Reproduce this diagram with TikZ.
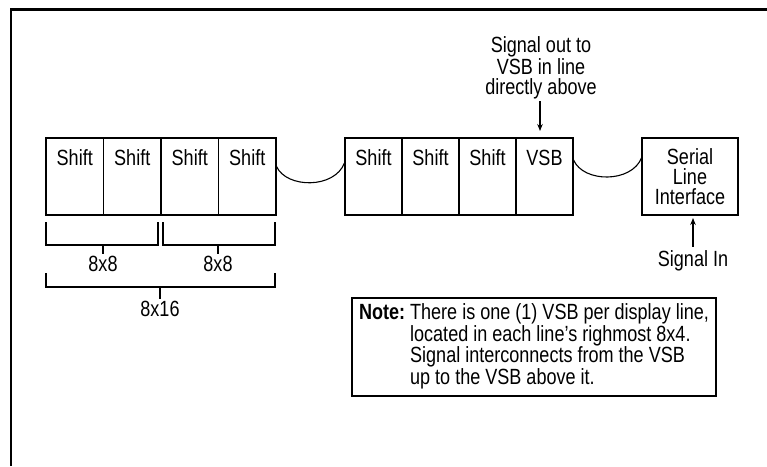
\documentclass[tikz,border=0pt]{standalone}
\usepackage{fontspec}
\setmainfont[FakeStretch=0.82]{Liberation Sans}
\usetikzlibrary{arrows.meta,calc}
\begin{document}
\begin{tikzpicture}[x=1pt,y=-1pt,
  every node/.style={font=\fontsize{22}{20}\selectfont},
  box/.style={draw,line width=1.1pt},
  cell/.style={box,minimum width=57.5pt,minimum height=77pt,inner sep=0pt,
    text height=27pt,text depth=50pt},
  wire/.style={line width=1.1pt},
  arr/.style={line width=1.1pt,-{Stealth[length=7pt,width=5.5pt]}},
  lbl/.style={inner sep=0pt}]
\useasboundingbox (0,0) rectangle (767,466);

% outer frame
\draw[line width=2.5pt] (11,466) -- (11,9.5) -- (767,9.5);

% first group of shift registers
\node[cell] (a1) at (74.75,176.5) {Shift};
\node[cell] (a2) at (132.25,176.5) {Shift};
\node[cell] (a3) at (189.75,176.5) {Shift};
\node[cell] (a4) at (247.25,176.5) {Shift};

% second group, ending in the VSB
\node[cell,minimum width=57pt] (b1) at (373.5,176.5) {Shift};
\node[cell,minimum width=57pt] (b2) at (430.5,176.5) {Shift};
\node[cell,minimum width=57pt] (b3) at (487.5,176.5) {Shift};
\node[cell,minimum width=57pt] (vsb) at (544.5,176.5) {VSB};

% serial line interface
\node[box,minimum width=96pt,minimum height=77pt,inner sep=0pt,align=center]
  (sli) at (690,176.5) {Serial\\Line\\Interface};

% chain links between blocks
\draw[wire] ([yshift=10pt]a4.east) .. controls +(10,22) and +(-10,26) .. ([yshift=13.5pt]b1.west);
\draw[wire] ([yshift=16.5pt]vsb.east) .. controls +(10,23) and +(-10,25) .. ([yshift=18.5pt]sli.west);

% signal out to the line above
\node[lbl,align=center] (sigout) at (541,68) {Signal out to\\VSB in line\\directly above};
\coordinate (outtip) at (540,131);
\draw[arr] (sigout.south -| outtip) ++(0,2) -- (outtip);

% signal in
\node[lbl] (sigin) at (693,261) {Signal In};
\coordinate (intip) at (693,218);
\draw[arr] ([yshift=4pt]sigin.north) -- (intip);

% size brackets
\node[lbl] (l1) at (103,264) {8x8};
\node[lbl] (l2) at (218,264) {8x8};
\node[lbl] (l3) at (160,309) {8x16};
\draw[wire] (46,222) -- (46,245) -- (158,245) -- (158,222);
\draw[wire] (163,222) -- (163,245) -- (275,245) -- (275,222);
\draw[wire] (46,273) -- (46,287) -- (275,287) -- (275,273);
\draw[wire] (l1.north |- 0,245) -- ([yshift=2pt]l1.north);
\draw[wire] (l2.north |- 0,245) -- ([yshift=2pt]l2.north);
\draw[wire] (l3.north |- 0,287) -- ([yshift=2pt]l3.north);

% note
\node[box,minimum width=364pt,minimum height=98pt,inner sep=0pt] (note) at (534,347)
  {\begin{tabular}{@{}l@{\hspace{5pt}}l@{}}
   \textbf{Note:} & There is one (1) VSB per display line,\\
   & located in each line's righmost 8x4.\\
   & Signal interconnects from the VSB\\
   & up to the VSB above it.
   \end{tabular}};
\end{tikzpicture}
\end{document}
